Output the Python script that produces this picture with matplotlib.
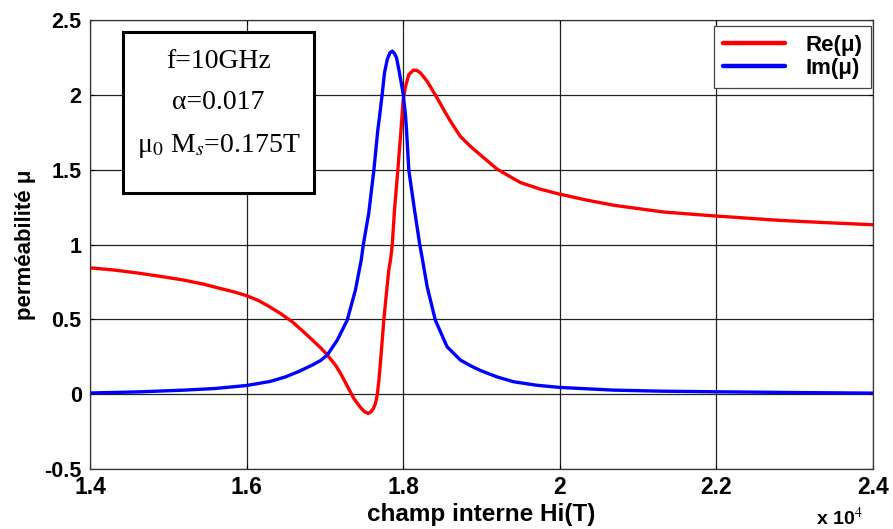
import matplotlib
matplotlib.use("Agg")
import matplotlib.pyplot as plt
from matplotlib.patches import Rectangle

# ---- data (x in units of 10^4) ----
h_re = [1.40, 1.43, 1.46, 1.49, 1.52, 1.545, 1.565, 1.585, 1.60, 1.615,
        1.628, 1.643, 1.658, 1.672, 1.684, 1.6945, 1.703, 1.714, 1.72, 1.728,
        1.737, 1.742, 1.746, 1.751, 1.7553, 1.759, 1.762, 1.7646, 1.767, 1.769,
        1.772, 1.7752, 1.7785, 1.7816, 1.7838, 1.786, 1.7889, 1.7931, 1.7972,
        1.80, 1.803, 1.8071, 1.8128, 1.817, 1.822, 1.8306, 1.841, 1.8518,
        1.8604, 1.873, 1.886, 1.8987, 1.920, 1.9497, 1.975, 2.0, 2.035,
        2.069, 2.1326, 2.2, 2.2815, 2.34, 2.4]
re_mu = [0.844, 0.83, 0.81, 0.787, 0.762, 0.735, 0.708, 0.682, 0.658, 0.626,
         0.588, 0.54, 0.485, 0.42, 0.362, 0.31, 0.263, 0.19, 0.139, 0.06,
         -0.029, -0.065, -0.092, -0.118, -0.129, -0.117, -0.095, -0.062, 0.0, 0.094,
         0.28, 0.495, 0.67, 0.83, 0.897, 0.997, 1.232, 1.495, 1.767,
         1.968, 2.057, 2.135, 2.164, 2.164, 2.147, 2.09, 2.0, 1.90,
         1.823, 1.722, 1.655, 1.598, 1.503, 1.414, 1.37, 1.336, 1.296,
         1.262, 1.217, 1.19, 1.161, 1.146, 1.132]

h_im = [1.40, 1.46, 1.52, 1.56, 1.60, 1.63, 1.65, 1.668, 1.684, 1.6945,
        1.703, 1.7158, 1.7285, 1.739, 1.7464, 1.749, 1.756, 1.7625, 1.7676,
        1.7698, 1.7732, 1.7761, 1.7796, 1.783, 1.786, 1.789, 1.7915, 1.7944,
        1.7975, 1.80, 1.803, 1.8042, 1.8072, 1.8144, 1.8212, 1.8243, 1.8306,
        1.841, 1.856, 1.873, 1.886, 1.8987, 1.92, 1.941, 1.97, 2.0, 2.069,
        2.13, 2.2, 2.3, 2.4]
im_mu = [0.008, 0.015, 0.027, 0.038, 0.058, 0.085, 0.116, 0.155, 0.195, 0.225,
         0.262, 0.361, 0.495, 0.696, 0.897, 0.997, 1.21, 1.495, 1.767,
         1.856, 2.006, 2.147, 2.236, 2.28, 2.292, 2.275, 2.247, 2.169,
         2.08, 2.006, 1.856, 1.767, 1.495, 1.232, 0.997, 0.908, 0.718,
         0.495, 0.317, 0.228, 0.19, 0.158, 0.115, 0.083, 0.06, 0.045, 0.027,
         0.02, 0.016, 0.011, 0.007]

x_ticks = [1.4, 1.6, 1.8, 2.0, 2.2, 2.4]
x_ticklabels = ["1.4", "1.6", "1.8", "2", "2.2", "2.4"]
y_ticks = [-0.5, 0, 0.5, 1, 1.5, 2, 2.5]
y_ticklabels = ["-0.5", "0", "0.5", "1", "1.5", "2", "2.5"]

series_labels = ["Re(\u03bc)", "Im(\u03bc)"]
box_lines = ["f=10GHz", "\u03b1=0.017", "\u03bc$_0$ M$_s$=0.175T"]

# ---- fonts ----
plt.rcParams["font.family"] = ["Liberation Sans", "DejaVu Sans"]
plt.rcParams["mathtext.fontset"] = "stix"

fig = plt.figure(figsize=(8.93, 5.29), dpi=100)
ax = fig.add_axes([0.1008, 0.1134, 0.8768, 0.8488])

ax.plot(h_re, re_mu, color="#ff0000", lw=2.4, label=series_labels[0],
        solid_joinstyle="round", solid_capstyle="round")
ax.plot(h_im, im_mu, color="#0000ff", lw=2.4, label=series_labels[1],
        solid_joinstyle="round", solid_capstyle="round")

ax.set_xlim(1.4, 2.4)
ax.set_ylim(-0.5, 2.5)
ax.set_xticks(x_ticks)
ax.set_yticks(y_ticks)
ax.set_xticklabels(x_ticklabels, fontweight="bold", fontsize=16.5)
ax.set_yticklabels(y_ticklabels, fontweight="bold", fontsize=15.5)
ax.tick_params(direction="in", length=3, width=0.8, top=True, right=True, pad=6, colors="black")
ax.tick_params(axis="x", pad=5)
ax.grid(True, color="#222222", lw=0.9)
for s in ax.spines.values():
    s.set_color("#333333")
    s.set_linewidth(0.9)

ax.set_xlabel("champ interne Hi(T)", fontweight="bold", fontsize=17.5, labelpad=3)
ax.set_ylabel("perm\u00e9abilit\u00e9 \u03bc", fontweight="bold", fontsize=16, labelpad=6)

fig.text(0.9135, 0.0, "x 10$^{4}$", fontweight="bold", fontsize=14,
         ha="left", va="bottom")

leg = ax.legend(loc="upper right", bbox_to_anchor=(0.9975, 0.9866),
                prop={"weight": "bold", "size": 16}, frameon=True, fancybox=False,
                edgecolor="#444444", framealpha=1, handlelength=2.8, handletextpad=0.9,
                borderpad=0.4, labelspacing=0.1, borderaxespad=0.0)
leg.get_frame().set_linewidth(0.9)
for line in leg.get_lines():
    line.set_linewidth(3.2)

# parameter box
bx0, by0 = 122.7 / 893, 1 - 192.7 / 529
bw, bh = (314 - 122.7) / 893, (192.7 - 31.7) / 529
fig.patches.append(Rectangle((bx0, by0), bw, bh, transform=fig.transFigure,
                             facecolor="white", edgecolor="black", lw=2.2, zorder=5))
ys = [62, 102, 146]
for t, yy in zip(box_lines, ys):
    fig.text((122.7 + 314) / 2 / 893, 1 - yy / 529, t, ha="center", va="center",
             fontfamily=["Liberation Serif", "DejaVu Serif"], fontsize=20, zorder=6)

fig.savefig("out.png", dpi=100)
